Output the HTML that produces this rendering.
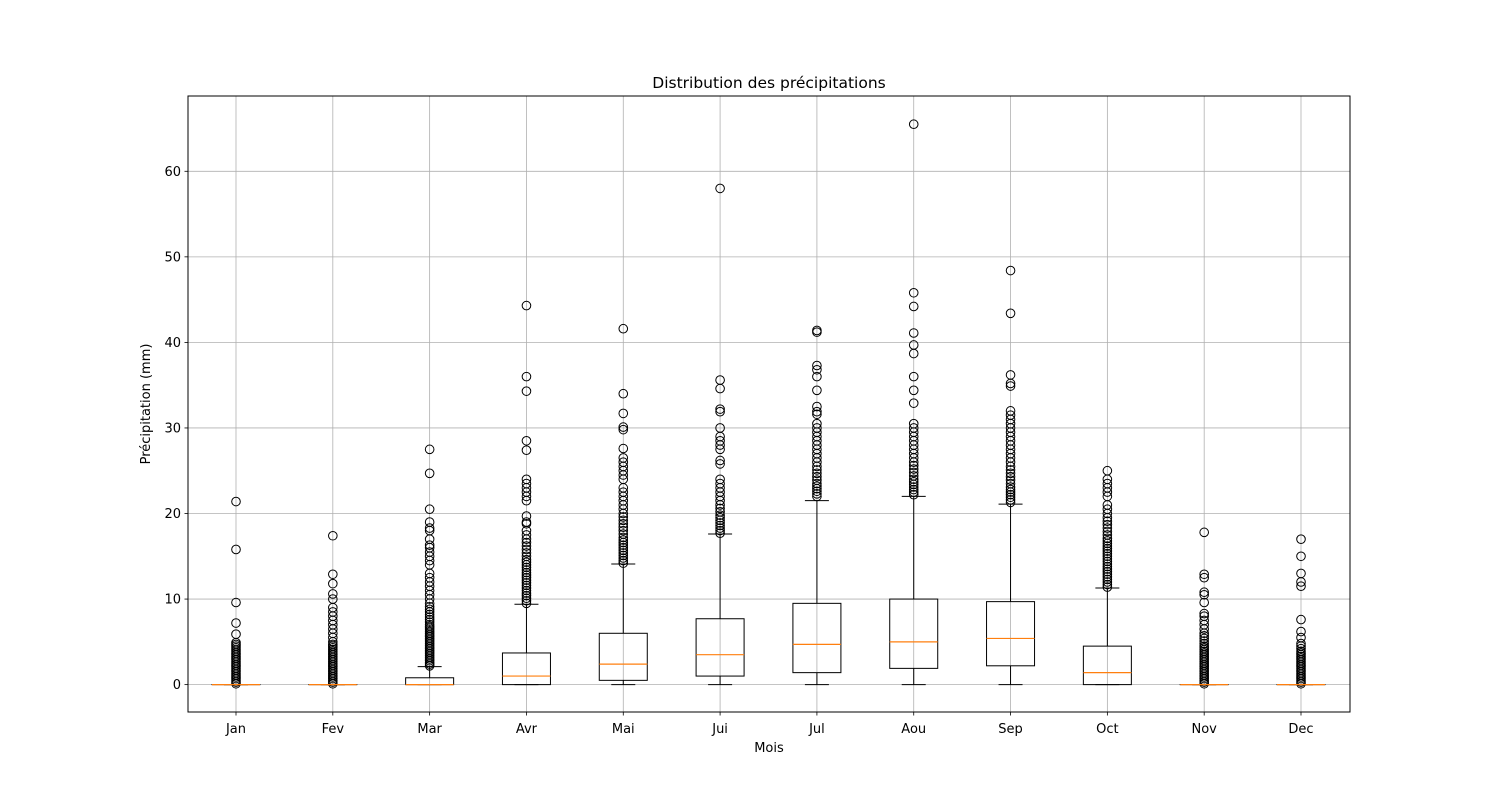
<!DOCTYPE html>
<html><head><meta charset="utf-8"><style>
body{margin:0;background:#fff;}
svg text{font-family:"DejaVu Sans","Liberation Sans",sans-serif;fill:#000;}
</style></head><body>
<svg id="chart" width="1500" height="800" xmlns="http://www.w3.org/2000/svg">
<rect width="1500" height="800" fill="#fff"/>
<g id="grid"></g>
<g id="boxes"></g>
<g id="axes"></g>
</svg>
<script>
const months=["Jan","Fev","Mar","Avr","Mai","Jui","Jul","Aou","Sep","Oct","Nov","Dec"];
const q1=[0,0,0,0,0.5,1.0,1.4,1.9,2.2,0,0,0];
const med=[0,0,0,1.0,2.4,3.5,4.7,5.0,5.4,1.4,0,0];
const q3=[0,0,0.8,3.7,6.0,7.7,9.5,10.0,9.7,4.5,0,0];
const whisLo=[0,0,0,0,0,0,0,0,0,0,0,0];
const whisHi=[0,0,2.1,9.4,14.1,17.6,21.5,22.0,21.1,11.3,0,0];
const fliers=[
[0.1,0.3,0.5,0.7,0.9,1.1,1.3,1.5,1.7,1.9,2.1,2.3,2.5,2.7,2.9,3.1,3.3,3.5,3.7,3.9,4.1,4.3,4.5,4.7,4.9,5.9,7.2,9.6,15.8,21.4],
[0.1,0.3,0.5,0.7,0.9,1.1,1.3,1.5,1.7,1.9,2.1,2.3,2.5,2.7,2.9,3.1,3.3,3.5,3.7,3.9,4.1,4.3,4.5,4.7,5.0,5.5,6.0,6.5,7.0,7.5,8.0,8.5,9.0,10.0,10.6,11.8,12.9,17.4],
[2.2,2.4,2.6,2.8,3.0,3.2,3.4,3.6,3.8,4.0,4.2,4.4,4.6,4.8,5.0,5.2,5.4,5.6,5.8,6.0,6.2,6.4,6.6,6.8,7.0,7.3,7.6,7.9,8.2,8.5,8.8,9.1,9.5,10.0,10.5,11.0,11.5,12.0,12.5,13.0,14.0,14.5,15.0,15.5,16.0,16.3,17.0,18.0,18.3,19.0,20.5,24.7,27.5],
[9.5,9.8,10.1,10.4,10.7,11.0,11.3,11.6,11.9,12.2,12.5,12.8,13.1,13.4,13.7,14.0,14.3,14.6,15.0,15.4,15.8,16.2,16.6,17.0,17.5,18.0,18.8,19.0,19.7,21.5,22.0,22.5,23.0,23.5,24.0,27.4,28.5,34.3,36.0,44.3],
[14.2,14.5,14.8,15.1,15.4,15.7,16.0,16.3,16.6,16.9,17.2,17.6,18.0,18.4,18.8,19.2,19.6,20.0,20.5,21.0,21.5,22.0,22.5,23.0,24.0,24.5,25.0,25.5,26.0,26.5,27.6,29.8,30.1,31.7,34.0,41.6],
[17.7,18.0,18.3,18.6,18.9,19.2,19.5,19.8,20.2,20.6,21.0,21.5,22.0,22.5,23.0,23.5,24.0,25.8,26.2,27.5,28.0,28.5,29.0,30.0,31.9,32.2,34.6,35.6,58.0],
[22.0,22.3,22.6,22.9,23.2,23.5,23.9,24.3,24.7,25.1,25.5,26.0,26.5,27.0,27.5,28.0,28.5,29.0,29.5,30.0,30.5,31.6,31.9,32.5,34.4,36.0,36.8,37.3,41.2,41.4],
[22.2,22.5,22.8,23.1,23.4,23.7,24.0,24.4,24.8,25.2,25.6,26.0,26.5,27.0,27.5,28.0,28.5,29.0,29.5,30.0,30.5,32.9,34.4,36.0,38.7,39.7,41.1,44.2,45.8,65.5],
[21.3,21.6,21.9,22.2,22.5,22.8,23.1,23.5,23.9,24.3,24.7,25.1,25.5,26.0,26.5,27.0,27.5,28.0,28.5,29.0,29.5,30.0,30.5,31.0,31.5,32.0,34.9,35.2,36.2,43.4,48.4],
[11.4,11.7,12.0,12.3,12.6,12.9,13.2,13.5,13.8,14.1,14.4,14.7,15.0,15.3,15.6,15.9,16.2,16.5,16.8,17.1,17.5,17.9,18.3,18.7,19.1,19.5,20.0,20.5,21.0,22.0,22.5,23.0,23.5,24.0,25.0],
[0.1,0.3,0.5,0.7,0.9,1.1,1.3,1.5,1.7,1.9,2.1,2.3,2.5,2.7,2.9,3.1,3.3,3.5,3.7,3.9,4.1,4.3,4.5,4.8,5.1,5.4,5.7,6.0,6.5,7.0,7.5,8.0,8.3,9.6,10.5,10.8,12.5,12.9,17.8],
[0.1,0.3,0.5,0.7,0.9,1.1,1.3,1.5,1.7,1.9,2.1,2.3,2.5,2.7,2.9,3.1,3.3,3.5,3.7,3.9,4.2,4.5,4.8,5.5,6.2,7.6,11.5,12.0,13.0,15.0,17.0]
];
const yTicks=[0,10,20,30,40,50,60];
const yMin=-3.2,yMax=68.8;
const L=188,R=1350,T=96,B=712;
const NS="http://www.w3.org/2000/svg";
function X(i){return 236+i*(1301-236)/11;}
function Y(v){return B-(v-yMin)/(yMax-yMin)*(B-T);}
function mk(p,tag,a){const e=document.createElementNS(NS,tag);for(const k in a)e.setAttribute(k,a[k]);p.appendChild(e);return e;}
const grid=document.getElementById('grid'),boxes=document.getElementById('boxes'),axes=document.getElementById('axes');
yTicks.forEach(v=>{
 const g=mk(grid,'line',{x1:L,x2:R,y1:Y(v),y2:Y(v),stroke:'#b0b0b0','stroke-width':0.8});
 
 
 const t=mk(axes,'line',{x1:L-3.5,x2:L,y1:Y(v),y2:Y(v),stroke:'#000','stroke-width':0.8});
 
 
 const lb=mk(axes,'text',{x:L-7,y:Y(v)+4.5,'text-anchor':'end','font-size':13});
 lb.textContent=v;
 
 
});
months.forEach((m,i)=>{
 const x=X(i);
 const g=mk(grid,'line',{x1:x,x2:x,y1:T,y2:B,stroke:'#b0b0b0','stroke-width':0.8});
 
 
 const t=mk(axes,'line',{x1:x,x2:x,y1:B,y2:B+3.5,stroke:'#000','stroke-width':0.8});
 
 
 const lb=mk(axes,'text',{x:x,y:B+21,'text-anchor':'middle','font-size':13});
 lb.textContent=m;
 
 
 const grp=mk(boxes,'g',{});
 
 
 const hw=24,cw=12,s={stroke:'#000','stroke-width':1,fill:'none'};
 mk(grp,'line',Object.assign({x1:x,x2:x,y1:Y(q1[i]),y2:Y(whisLo[i])},s));
 mk(grp,'line',Object.assign({x1:x,x2:x,y1:Y(q3[i]),y2:Y(whisHi[i])},s));
 mk(grp,'line',Object.assign({x1:x-cw,x2:x+cw,y1:Y(whisLo[i]),y2:Y(whisLo[i])},s));
 mk(grp,'line',Object.assign({x1:x-cw,x2:x+cw,y1:Y(whisHi[i]),y2:Y(whisHi[i])},s));
 mk(grp,'rect',Object.assign({x:x-hw,y:Y(q3[i]),width:2*hw,height:Math.max(0.01,Y(q1[i])-Y(q3[i]))},s));
 fliers[i].forEach(v=>{
  const c=mk(grp,'circle',{cx:x,cy:Y(v),r:4.3,fill:'none',stroke:'#000','stroke-width':1});
  
  
 });
 const md=mk(grp,'line',{x1:x-hw,x2:x+hw,y1:Y(med[i]),y2:Y(med[i]),stroke:'#ff7f0e','stroke-width':1.2});
 
 
});
const fr=mk(axes,'rect',{x:L,y:T,width:R-L,height:B-T,fill:'none',stroke:'#000','stroke-width':1});


const ti=mk(axes,'text',{x:(L+R)/2,y:88,'text-anchor':'middle','font-size':15.5});
ti.textContent='Distribution des précipitations';


const xl=mk(axes,'text',{x:(L+R)/2,y:752,'text-anchor':'middle','font-size':13});
xl.textContent='Mois';


const yl=mk(axes,'text',{x:0,y:0,'text-anchor':'middle','font-size':13,transform:'translate(150,404) rotate(-90)'});
yl.textContent='Précipitation (mm)';


</script>
</body></html>
